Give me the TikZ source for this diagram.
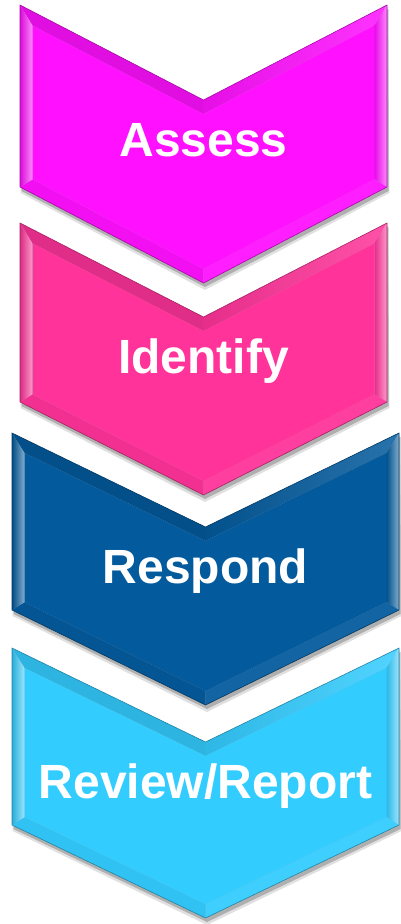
\documentclass[tikz,border=0pt]{standalone}
\usepackage{fontspec}
\setmainfont{Liberation Sans}
\usetikzlibrary{calc}
\definecolor{cAssess}{HTML}{FF10FF}
\definecolor{cIdentify}{HTML}{FF3399}
\definecolor{cRespond}{HTML}{035A9C}
\definecolor{cReview}{HTML}{33CCFF}
\tikzset{
  lbl/.style={text=white, font=\fontsize{48}{48}\selectfont\bfseries, anchor=base, inner sep=0pt},
  chshadow/.style={fill=black, opacity=0.22},
}
% #1 L, #2 R, #3 top y, #4 notch y, #5 side-bottom y, #6 tip y, #7 colour, #8 name, #9 text
\newcommand\chevronstep[9]{%
  \pgfmathsetmacro\chC{(#1+#2)/2}%
  \pgfmathsetmacro\chK{(#4-#3)/(\chC-#1)}%
  \pgfmathsetmacro\chKb{(#6-#5)/(\chC-#1)}%
  \pgfmathsetmacro\chV{12.5*sqrt(1+\chK*\chK)}%
  \pgfmathsetmacro\chVb{12.5*sqrt(1+\chKb*\chKb)}%
  \coordinate (#8A) at (#1,-#3);
  \coordinate (#8B) at (\chC,-#4);
  \coordinate (#8C) at (#2,-#3);
  \coordinate (#8D) at (#2,-#5);
  \coordinate (#8E) at (\chC,-#6);
  \coordinate (#8F) at (#1,-#5);
  \coordinate (#8a) at ({#1+12.5},{-(#3+12.5*\chK+\chV)});
  \coordinate (#8b) at (\chC,{-(#4+\chV)});
  \coordinate (#8c) at ({#2-12.5},{-(#3+12.5*\chK+\chV)});
  \coordinate (#8d) at ({#2-12.5},{-(#5+12.5*\chKb-\chVb)});
  \coordinate (#8e) at (\chC,{-(#6-\chVb)});
  \coordinate (#8f) at ({#1+12.5},{-(#5+12.5*\chKb-\chVb)});
  % shadow
  \fill[chshadow] ([shift={(1.5,-4)}]#8A) -- ([shift={(1.5,-4)}]#8B) -- ([shift={(1.5,-4)}]#8C) -- ([shift={(1.5,-4)}]#8D) -- ([shift={(1.5,-4)}]#8E) -- ([shift={(1.5,-4)}]#8F) -- cycle;
  \fill[black, opacity=0.12] ([shift={(1,-2)}]#8A) -- ([shift={(1,-2)}]#8B) -- ([shift={(1,-2)}]#8C) -- ([shift={(2.5,-6)}]#8D) -- ([shift={(1.5,-7)}]#8E) -- ([shift={(0.5,-6)}]#8F) -- cycle;
  % facets
  \fill[#7!88!black] (#8A) -- (#8B) -- (#8b) -- (#8a) -- cycle;
  \shade[left color=#7!90!black, right color=#7!85!white] (#8B) -- (#8C) -- (#8c) -- (#8b) -- cycle;
  \shade[left color=#7!90!black, right color=#7!50!white] (#8C) -- (#8D) -- (#8d) -- (#8c) -- cycle;
  \fill[#7!94!white] (#8D) -- (#8E) -- (#8e) -- (#8d) -- cycle;
  \fill[#7!95!black] (#8E) -- (#8F) -- (#8f) -- (#8e) -- cycle;
  \shade[left color=#7!85!black, right color=#7!50!white] (#8F) -- (#8A) -- (#8a) -- (#8f) -- cycle;
  \fill[#7] (#8a) -- (#8b) -- (#8c) -- (#8d) -- (#8e) -- (#8f) -- cycle;
  \draw[#7!65!black, line width=0.6pt, line join=miter] (#8A) -- (#8B) -- (#8C) -- (#8D) -- (#8E) -- (#8F) -- cycle;
  \node[lbl] (#8) at (\chC,{-(#4+56)}) {#9};
}
\begin{document}
\begin{tikzpicture}[x=1pt,y=1pt]
\useasboundingbox (0,0) rectangle (401,-924);
\chevronstep{20}{387}{5}{100}{187}{283}{cAssess}{assess}{Assess}
\chevronstep{20}{387}{223}{317}{402}{495}{cIdentify}{identify}{Identify}
\chevronstep{12}{399}{433}{527}{610}{705}{cRespond}{respond}{Respond}
\chevronstep{12}{399}{648}{742}{825}{918}{cReview}{review}{Review/Report}
\end{tikzpicture}
\end{document}
